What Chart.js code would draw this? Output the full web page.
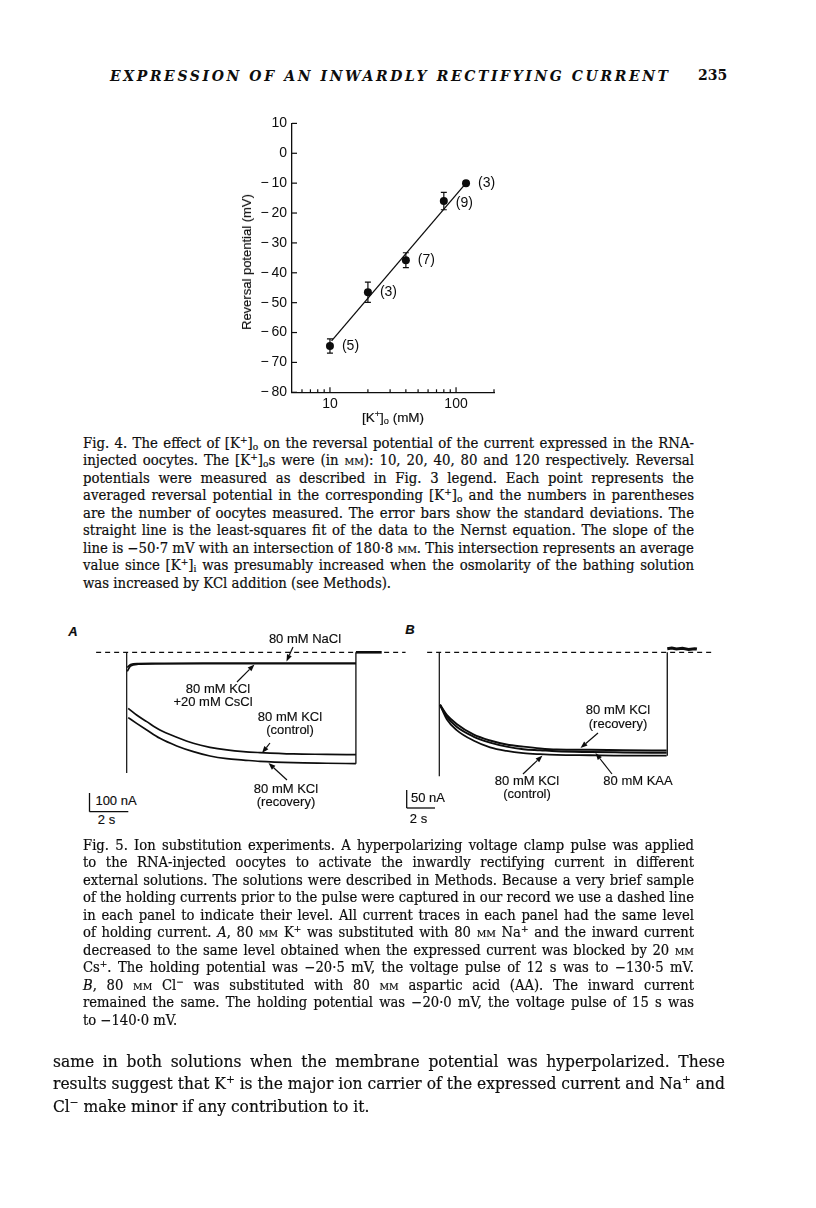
<!DOCTYPE html>
<html><head><meta charset="utf-8">
<script src="https://cdn.jsdelivr.net/npm/chart.js@4.4.1/dist/chart.umd.min.js"></script>
<style>
html,body{margin:0;padding:0;background:#fff;}
body{width:816px;height:1208px;position:relative;overflow:hidden;color:#0d0d0d;}
.ln{position:absolute;white-space:nowrap;}
.ln>span{display:inline-block;transform-origin:0 50%;white-space:nowrap;}
.cap{font-family:"DejaVu Serif",serif;font-size:14px;line-height:17px;-webkit-text-stroke:0.2px #0d0d0d;}
.bod{font-family:"DejaVu Serif",serif;font-size:17px;line-height:21px;-webkit-text-stroke:0.2px #0d0d0d;}
.hdr{font-family:"DejaVu Serif",serif;font-size:14px;line-height:17px;font-style:italic;font-weight:bold;}
sup,sub{font-size:0.68em;line-height:0;}
sup{vertical-align:0.55em;} sub{vertical-align:-0.2em;}
.sc{font-variant:small-caps;}
.lab{position:absolute;font-family:"Liberation Sans",Arial,sans-serif;font-size:13px;line-height:12px;white-space:nowrap;transform:translate(-50%,-50%);-webkit-text-stroke:0.15px #0d0d0d;}
canvas{position:absolute;}
</style>
</head><body>

<!-- running head -->
<div class="ln hdr" id="hdr" data-l="110" data-r="668" data-y="76"><span>EXPRESSION OF AN INWARDLY RECTIFYING CURRENT</span></div>
<div class="ln" style="left:698px;top:67px;font-family:'DejaVu Serif',serif;font-size:14px;line-height:17px;font-weight:bold;">235</div>

<!-- Fig. 4 -->
<canvas id="fig4" width="290" height="322" style="left:222px;top:110px;"></canvas>
<div class="lab" style="left:247px;top:262px;transform:translate(-50%,-50%) rotate(-90deg);">Reversal potential (mV)</div>
<div class="lab" style="left:393px;top:418px;font-size:13.5px;">[K<sup>+</sup>]<sub>o</sub> (mM)</div>

<div class="ln cap" data-g="g4" data-y="443" data-l="83" data-r="694"><span>Fig. 4. The effect of [K<sup>+</sup>]<sub>o</sub> on the reversal potential of the current expressed in the RNA-</span></div>
<div class="ln cap" data-g="g4" data-y="460.5" data-l="83" data-r="694"><span>injected oocytes. The [K<sup>+</sup>]<sub>o</sub>s were (in <span class="sc">mm</span>): 10, 20, 40, 80 and 120 respectively. Reversal</span></div>
<div class="ln cap" data-g="g4" data-y="478" data-l="83" data-r="694"><span>potentials were measured as described in Fig. 3 legend. Each point represents the</span></div>
<div class="ln cap" data-g="g4" data-y="495.5" data-l="83" data-r="694"><span>averaged reversal potential in the corresponding [K<sup>+</sup>]<sub>o</sub> and the numbers in parentheses</span></div>
<div class="ln cap" data-g="g4" data-y="513" data-l="83" data-r="694"><span>are the number of oocytes measured. The error bars show the standard deviations. The</span></div>
<div class="ln cap" data-g="g4" data-y="530.5" data-l="83" data-r="694"><span>straight line is the least-squares fit of the data to the Nernst equation. The slope of the</span></div>
<div class="ln cap" data-g="g4" data-y="548" data-l="83" data-r="694"><span>line is −50·7 mV with an intersection of 180·8 <span class="sc">mm</span>. This intersection represents an average</span></div>
<div class="ln cap" data-g="g4" data-y="565.5" data-l="83" data-r="694"><span>value since [K<sup>+</sup>]<sub>i</sub> was presumably increased when the osmolarity of the bathing solution</span></div>
<div class="ln cap" data-g="g4" data-last="1" data-y="583" data-l="83" data-r="694"><span>was increased by KCl addition (see Methods).</span></div>

<!-- Fig. 5 -->
<div class="lab" style="left:73px;top:632px;font-weight:bold;font-style:italic;">A</div>
<div class="lab" style="left:410px;top:630px;font-weight:bold;font-style:italic;">B</div>
<canvas id="fig5a" width="320" height="145" style="left:90px;top:635px;"></canvas>
<canvas id="fig5b" width="300" height="145" style="left:420px;top:635px;"></canvas>

<div class="lab" style="left:305px;top:639px;">80 mM NaCl</div>
<div class="lab" style="left:218px;top:689px;">80 mM KCl</div>
<div class="lab" style="left:213px;top:702px;">+20 mM CsCl</div>
<div class="lab" style="left:290px;top:716.5px;">80 mM KCl</div>
<div class="lab" style="left:290px;top:729.5px;">(control)</div>
<div class="lab" style="left:286px;top:788.5px;">80 mM KCl</div>
<div class="lab" style="left:286px;top:801.5px;">(recovery)</div>
<div class="lab" style="left:116px;top:801px;">100 nA</div>
<div class="lab" style="left:106.5px;top:820px;">2 s</div>

<div class="lab" style="left:618px;top:710px;">80 mM KCl</div>
<div class="lab" style="left:618px;top:724px;">(recovery)</div>
<div class="lab" style="left:527px;top:781px;">80 mM KCl</div>
<div class="lab" style="left:527px;top:794px;">(control)</div>
<div class="lab" style="left:638px;top:781px;">80 mM KAA</div>
<div class="lab" style="left:428px;top:798px;">50 nA</div>
<div class="lab" style="left:418.5px;top:819px;">2 s</div>

<svg id="ov" width="816" height="1208" style="position:absolute;left:0;top:0;pointer-events:none;"></svg>

<div class="ln cap" data-g="g5" data-y="845" data-l="83" data-r="694"><span>Fig. 5. Ion substitution experiments. A hyperpolarizing voltage clamp pulse was applied</span></div>
<div class="ln cap" data-g="g5" data-y="862.5" data-l="83" data-r="694"><span>to the RNA-injected oocytes to activate the inwardly rectifying current in different</span></div>
<div class="ln cap" data-g="g5" data-y="880" data-l="83" data-r="694"><span>external solutions. The solutions were described in Methods. Because a very brief sample</span></div>
<div class="ln cap" data-g="g5" data-y="897.5" data-l="83" data-r="694"><span>of the holding currents prior to the pulse were captured in our record we use a dashed line</span></div>
<div class="ln cap" data-g="g5" data-y="915" data-l="83" data-r="694"><span>in each panel to indicate their level. All current traces in each panel had the same level</span></div>
<div class="ln cap" data-g="g5" data-y="932.5" data-l="83" data-r="694"><span>of holding current. <i>A</i>, 80 <span class="sc">mm</span> K<sup>+</sup> was substituted with 80 <span class="sc">mm</span> Na<sup>+</sup> and the inward current</span></div>
<div class="ln cap" data-g="g5" data-y="950" data-l="83" data-r="694"><span>decreased to the same level obtained when the expressed current was blocked by 20 <span class="sc">mm</span></span></div>
<div class="ln cap" data-g="g5" data-y="967.5" data-l="83" data-r="694"><span>Cs<sup>+</sup>. The holding potential was −20·5 mV, the voltage pulse of 12 s was to −130·5 mV.</span></div>
<div class="ln cap" data-g="g5" data-y="985" data-l="83" data-r="694"><span><i>B</i>, 80 <span class="sc">mm</span> Cl<sup>−</sup> was substituted with 80 <span class="sc">mm</span> aspartic acid (AA). The inward current</span></div>
<div class="ln cap" data-g="g5" data-y="1002.5" data-l="83" data-r="694"><span>remained the same. The holding potential was −20·0 mV, the voltage pulse of 15 s was</span></div>
<div class="ln cap" data-g="g5" data-last="1" data-y="1020" data-l="83" data-r="694"><span>to −140·0 mV.</span></div>

<div class="ln bod" data-g="gb" data-y="1061" data-l="53" data-r="725"><span>same in both solutions when the membrane potential was hyperpolarized. These</span></div>
<div class="ln bod" data-g="gb" data-y="1083.5" data-l="53" data-r="725"><span>results suggest that K<sup>+</sup> is the major ion carrier of the expressed current and Na<sup>+</sup> and</span></div>
<div class="ln bod" data-g="gb" data-last="1" data-y="1106" data-l="53" data-r="725"><span>Cl<sup>−</sup> make minor if any contribution to it.</span></div>

<script>
// ---------------- Fig. 4 data ----------------
const kConc   = [10, 20, 40, 80, 120];          // [K+]o, mM
const eRev    = [-64.5, -46.5, -35.8, -16, -10]; // reversal potential, mV
const eSD     = [2.4, 3.4, 2.5, 2.9, 0.6];       // standard deviation, mV
const nCells  = ['(5)', '(3)', '(7)', '(9)', '(3)'];
const fitK    = [10.3, 120];
const fitE    = [-62.8, -10];
const yTicks4 = [10, 0, -10, -20, -30, -40, -50, -60, -70, -80];
const xTicks4 = [5, 6, 7, 8, 9, 10, 20, 30, 40, 50, 60, 70, 80, 90, 100, 200];
const xTickLabels4 = {10: '10', 100: '100'};

// ---------------- Fig. 5A data (time s, current nA re holding) ----------------
const tA        = [0.08, 0.52, 1.05, 1.74, 2.62, 3.49, 4.36, 5.24, 6.11, 6.98, 8.72, 10.47, 12];
const aControl  = [-295, -330, -365, -409, -447, -479, -500, -514, -523, -528, -535, -537, -539];
const aRecovery = [-344, -374, -409, -453, -493, -523, -546, -560, -567, -574, -581, -584, -586];
const tAflat    = [0.03, 0.2, 0.6, 1.5, 4, 8, 12];
const aNaCl     = [-80, -64, -59, -58, -57, -57, -57];
const aCsCl     = [-100, -72, -63, -61, -60, -60, -60];
const aPulse    = [0, 12];
const aTransient = -635;
const aDash     = [-1.6, 14.6];
const aPost     = [12, 13.35];

// ---------------- Fig. 5B data ----------------
const tB        = [0.05, 0.49, 1.14, 2.24, 3.34, 4.43, 5.53, 6.63, 7.72, 9.91, 12.1, 14.96];
const bRecovery = [-146, -174, -199, -228, -245, -256, -262, -267, -270, -271, -272, -273];
const bKAA      = [-146, -179, -207, -234, -251, -262, -269, -272, -275, -277, -278, -279];
const bControl  = [-146, -186, -216, -245, -264, -274, -280, -283, -285, -286, -287, -287];
const bPulse    = [0, 15];
const bTransient = -344;
const bDash     = [-0.8, 17.9];
const tBpost    = [15, 15.3, 15.6, 16, 16.4, 16.8, 16.95];
const bPost     = [10, 12, 9, 11, 8, 10, 9];

const INK = '#0d0d0d';
const SANS = '"Liberation Sans", Arial, sans-serif';

// ---------- Fig. 4 chart ----------
const fig4Marks = {
  id: 'fig4Marks',
  afterDatasetsDraw(chart) {
    const {ctx, chartArea: a, scales: {x, y}} = chart;
    ctx.save();
    ctx.strokeStyle = INK; ctx.fillStyle = INK; ctx.lineWidth = 1.2;
    yTicks4.forEach(v => {
      const py = y.getPixelForValue(v);
      ctx.beginPath(); ctx.moveTo(a.left, py); ctx.lineTo(a.left + 5, py); ctx.stroke();
    });
    xTicks4.forEach(v => {
      if (v === xTicks4[0]) return;
      const px = x.getPixelForValue(v);
      const len = xTickLabels4[v] ? 5 : 3;
      ctx.beginPath(); ctx.moveTo(px, a.bottom); ctx.lineTo(px, a.bottom - len); ctx.stroke();
    });
    kConc.forEach((k, i) => {
      const px = x.getPixelForValue(k);
      const t = y.getPixelForValue(eRev[i] + eSD[i]);
      const b = y.getPixelForValue(eRev[i] - eSD[i]);
      ctx.beginPath();
      ctx.moveTo(px, t); ctx.lineTo(px, b);
      ctx.moveTo(px - 3, t); ctx.lineTo(px + 3, t);
      ctx.moveTo(px - 3, b); ctx.lineTo(px + 3, b);
      ctx.stroke();
    });
    ctx.font = '14px ' + SANS; ctx.textAlign = 'left'; ctx.textBaseline = 'middle';
    const dy = [0, 0, 0, 2, 0];
    kConc.forEach((k, i) => {
      ctx.fillText(nCells[i], x.getPixelForValue(k) + 12, y.getPixelForValue(eRev[i]) + dy[i]);
    });
    ctx.restore();
  }
};

new Chart(document.getElementById('fig4'), {
  type: 'scatter',
  data: {datasets: [
    {data: fitK.map((k, i) => ({x: k, y: fitE[i]})), showLine: true, borderColor: INK, borderWidth: 1.3, pointRadius: 0},
    {data: kConc.map((k, i) => ({x: k, y: eRev[i]})), pointRadius: 4, backgroundColor: INK, borderColor: INK, borderWidth: 0}
  ]},
  options: {
    responsive: false, animation: false, events: [],
    layout: {padding: {top: 12.3, right: 18, left: 0, bottom: 0}},
    plugins: {legend: {display: false}, tooltip: {enabled: false}},
    scales: {
      x: {
        type: 'logarithmic', min: 5, max: 200,
        afterBuildTicks: s => { s.ticks = xTicks4.map(v => ({value: v})); },
        afterFit: s => { s.height = 39.7; },
        grid: {display: false, drawTicks: false},
        border: {display: true, color: INK, width: 1.3},
        ticks: {autoSkip: false, maxRotation: 0, padding: 3, color: INK,
          font: {family: SANS, size: 14}, callback: v => xTickLabels4[v] || ''}
      },
      y: {
        type: 'linear', min: -80, max: 10,
        afterBuildTicks: s => { s.ticks = yTicks4.map(v => ({value: v})); },
        afterFit: s => { s.width = 70; },
        grid: {display: false, drawTicks: false},
        border: {display: true, color: INK, width: 1.3},
        ticks: {autoSkip: false, padding: 5, color: INK, font: {family: SANS, size: 14},
          callback: v => v < 0 ? '\u2212\u2009' + (-v) : String(v)}
      }
    }
  },
  plugins: [fig4Marks]
});

// ---------- Fig. 5 charts ----------
function series(xs, ys, opt) {
  return Object.assign({
    data: xs.map((x, i) => ({x: x, y: ys[i]})), showLine: true, borderColor: INK,
    borderWidth: 1.6, pointRadius: 0, cubicInterpolationMode: 'monotone', clip: false
  }, opt || {});
}
function traceChart(id, xr, yr, sets) {
  return new Chart(document.getElementById(id), {
    type: 'scatter', data: {datasets: sets},
    options: {
      responsive: false, animation: false, events: [],
      layout: {padding: 0},
      plugins: {legend: {display: false}, tooltip: {enabled: false}},
      scales: {
        x: {type: 'linear', display: false, min: xr[0], max: xr[1]},
        y: {type: 'linear', display: false, min: yr[0], max: yr[1]}
      }
    }
  });
}
traceChart('fig5a', [-1.921, 14.832], [-672.1, 91.05], [
  series(aDash, [0, 0], {borderDash: [5, 4], borderWidth: 1.3}),
  series([aPulse[0], aPulse[0]], [0, aTransient], {borderWidth: 1.2}),
  series(tAflat, aNaCl),
  series(tAflat, aCsCl),
  series(tA, aControl, {borderWidth: 1.7}),
  series(tA, aRecovery, {borderWidth: 1.7}),
  series([aPulse[1], aPulse[1]], [aRecovery[aRecovery.length - 1], 0], {borderWidth: 1.3}),
  series(aPost, [0, 0], {borderWidth: 2.6})
]);
traceChart('fig5b', [-1.27, 18.47], [-354.7, 48.06], [
  series(bDash, [0, 0], {borderDash: [5, 4], borderWidth: 1.3}),
  series([bPulse[0], bPulse[0]], [0, bTransient], {borderWidth: 1.2}),
  series(tB, bRecovery, {borderWidth: 2}),
  series(tB, bKAA, {borderWidth: 2}),
  series(tB, bControl, {borderWidth: 1.8}),
  series([bPulse[1], bPulse[1]], [bControl[bControl.length - 1], 0], {borderWidth: 1.3}),
  series(tBpost, bPost, {borderWidth: 3, cubicInterpolationMode: 'default', tension: 0})
]);

// ---------- arrows & scale bars (annotation overlay) ----------
const NS = 'http://www.w3.org/2000/svg';
const ov = document.getElementById('ov');
function el(tag, attrs) { const e = document.createElementNS(NS, tag); for (const k in attrs) e.setAttribute(k, attrs[k]); ov.appendChild(e); return e; }
function arrow(x1, y1, x2, y2) {
  const dx = x2 - x1, dy = y2 - y1, L = Math.hypot(dx, dy), ux = dx / L, uy = dy / L;
  const hl = 7, hw = 2.6, bx = x2 - ux * hl, by = y2 - uy * hl;
  el('line', {x1: x1, y1: y1, x2: bx, y2: by, stroke: INK, 'stroke-width': 1.2});
  el('polygon', {points: `${x2},${y2} ${bx - uy * hw},${by + ux * hw} ${bx + uy * hw},${by - ux * hw}`, fill: INK});
}
arrow(293, 647, 286.5, 661.5);
arrow(237, 682, 254.5, 664.5);
arrow(270, 743, 262, 753);
arrow(287, 780, 268.5, 763);
arrow(598, 733, 580.5, 748);
arrow(523, 774, 542.5, 755.5);
arrow(612, 774, 595.5, 753);
function bar(x1, y1, x2, y2) { el('line', {x1: x1, y1: y1, x2: x2, y2: y2, stroke: INK, 'stroke-width': 1.3}); }
bar(89.5, 793, 89.5, 811.7); bar(89.5, 811.7, 128.3, 811.7);
bar(406.7, 790, 406.7, 808); bar(406.7, 808, 435, 808);

// ---------- text line fitting ----------
(function () {
  const groups = {};
  document.querySelectorAll('.ln[data-g]').forEach(e => {
    const sp = e.firstElementChild;
    const w = sp.getBoundingClientRect().width;
    const W = (+e.dataset.r) - (+e.dataset.l);
    const g = e.dataset.g;
    (groups[g] = groups[g] || []).push({e, sp, w, W});
  });
  Object.values(groups).forEach(list => {
    let s = Infinity;
    list.forEach(o => { if (!o.e.dataset.last) s = Math.min(s, o.W / o.w); });
    list.forEach(o => {
      const lh = parseFloat(getComputedStyle(o.e).lineHeight);
      o.e.style.left = o.e.dataset.l + 'px';
      o.e.style.top = ((+o.e.dataset.y) - lh / 2) + 'px';
      o.sp.style.transform = `scaleX(${s})`;
      if (!o.e.dataset.last) {
        const n = (o.sp.textContent.match(/ /g) || []).length;
        if (n > 0) o.sp.style.wordSpacing = ((o.W / s - o.w) / n) + 'px';
      }
    });
  });
  const h = document.getElementById('hdr');
  const hs = h.firstElementChild;
  const hw = hs.getBoundingClientRect().width;
  const W = (+h.dataset.r) - (+h.dataset.l);
  const n = hs.textContent.length;
  const lh = parseFloat(getComputedStyle(h).lineHeight);
  h.style.left = h.dataset.l + 'px';
  h.style.top = ((+h.dataset.y) - lh / 2) + 'px';
  hs.style.letterSpacing = ((W - hw) / (n - 1)) + 'px';
})();
</script>
</body></html>
